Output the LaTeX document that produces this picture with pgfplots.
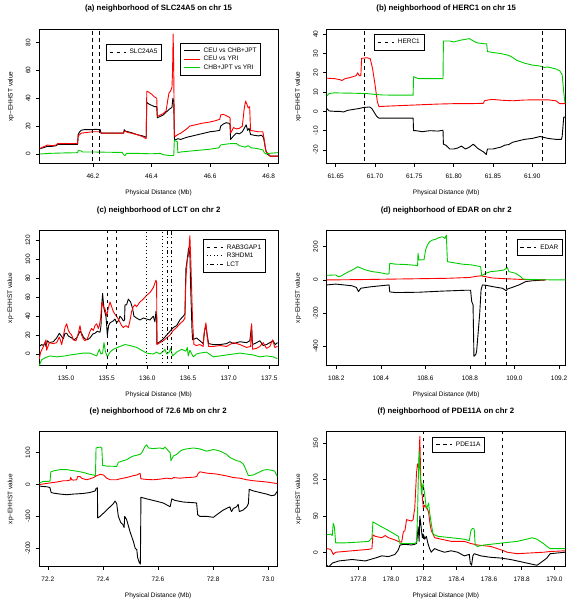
\documentclass[border=0pt]{standalone}
\usepackage{pgfplots}
\pgfplotsset{compat=1.18}
\usepackage{fontspec}
\setmainfont{Liberation Sans}
\definecolor{rgreen}{RGB}{0,205,0}
\newcommand{\smallfont}{\fontsize{6.5}{7.5}\selectfont}
\pgfplotsset{
 rstyle/.style={scale only axis, height=134.5pt, anchor=north west, no marks,
  tick align=outside, tick pos=left, major tick length=3.3pt,
  axis line style={line width=0.6pt}, every tick/.style={black, line width=0.6pt},
  tick label style={font=\smallfont}, yticklabel style={rotate=90, anchor=south},
  xticklabel shift=3.5pt, yticklabel shift=2pt,
  label style={font=\smallfont},
  xlabel={Physical Distance (Mb)}, ylabel={xp−EHHST value},
  xlabel style={at={(axis description cs:0.5,-0.2305)}, anchor=base},
  ylabel style={at={(axis description cs:-0.0914,0.5)}, anchor=south},
  title style={font=\bfseries\fontsize{7.8}{9}\selectfont, at={(axis description cs:0.5,1.093)}, anchor=base},
  legend cell align=left,
  legend style={font=\smallfont, draw=black, line width=0.6pt, fill=white, inner xsep=3pt, inner ysep=3.5pt,
    row sep=0pt, anchor=north west, nodes={inner sep=1pt, text height=5pt, text depth=1.5pt},
    /tikz/every odd column/.append style={column sep=2.5pt}},
  legend image code/.code={\draw[#1] (0pt,0pt) -- (16pt,0pt);},
 },
 blk/.style={black, line width=0.9pt, line join=round},
 rd/.style={red, line width=0.9pt, line join=round},
 gr/.style={rgreen, line width=0.9pt, line join=round},
 vdash/.style={black, line width=0.75pt, dash pattern=on 3.5pt off 3.5pt},
 vdot/.style={black, line width=0.75pt, dash pattern=on 0.9pt off 2.6pt},
 vdashdot/.style={black, line width=0.75pt, dash pattern=on 0.9pt off 2.6pt on 3.5pt off 2.6pt},
}
\begin{document}
\begin{tikzpicture}
\useasboundingbox (0pt,0pt) rectangle (575pt,609pt);
% ---------------- (a)
\begin{axis}[rstyle, width=238.6pt, at={(39.2pt,579.8pt)},
 title={(a) neighborhood of SLC24A5 on chr 15},
 xmin=46.017, xmax=46.831, ymin=-6.9, ymax=89.5,
 xtick={46.2,46.4,46.6,46.8}, xticklabels={46.2,46.4,46.6,46.8},
 ytick={0,20,40,60,80}, yticklabels={0,20,40,60,80},
 legend style={at={(axis description cs:0.28,0.889)}}]
\addplot[blk, forget plot] coordinates {(46.019,3.8) (46.03,4.5) (46.045,5.5) (46.06,5.5) (46.075,6) (46.08,7) (46.10,7) (46.12,7) (46.148,7) (46.150,14) (46.155,16) (46.16,17) (46.17,17.5) (46.19,17.5) (46.21,17.7) (46.225,17.5) (46.228,15) (46.25,15) (46.28,15) (46.305,15) (46.307,17.5) (46.31,16.5) (46.33,15.5) (46.35,14) (46.37,13) (46.382,12) (46.384,37) (46.39,36) (46.40,35) (46.41,34) (46.418,34) (46.420,26) (46.43,27) (46.44,28) (46.45,30) (46.46,32) (46.47,33.5) (46.473,40) (46.476,38) (46.478,12) (46.479,10) (46.49,11) (46.50,10.5) (46.52,12) (46.54,13) (46.56,14) (46.58,15) (46.60,16) (46.62,16.5) (46.633,17) (46.636,20) (46.645,21.5) (46.655,22.5) (46.665,22) (46.668,21) (46.670,10.5) (46.68,13) (46.69,15) (46.70,14.5) (46.71,16) (46.718,19) (46.723,21) (46.728,17) (46.733,18.5) (46.738,14) (46.75,13.5) (46.765,13) (46.775,13.5) (46.782,12) (46.79,3) (46.795,0) (46.805,-1.5) (46.831,-1.5)};
\addplot[rd, forget plot] coordinates {(46.019,4) (46.03,5) (46.045,6.5) (46.06,6) (46.075,6.5) (46.08,7.5) (46.12,7.5) (46.148,7.5) (46.150,13) (46.16,15) (46.18,15.5) (46.20,16) (46.225,16) (46.228,15) (46.28,15) (46.305,15) (46.307,16.5) (46.32,15.5) (46.35,14) (46.37,12.5) (46.382,11) (46.384,45) (46.39,44.5) (46.40,43) (46.41,41) (46.418,40) (46.420,27) (46.43,28) (46.44,29) (46.45,31) (46.455,38) (46.46,44) (46.465,45) (46.47,48) (46.472,60) (46.474,86) (46.476,60) (46.478,14) (46.48,12.5) (46.49,14) (46.50,15) (46.52,18) (46.53,20) (46.55,21) (46.57,22) (46.60,23) (46.62,24) (46.633,25) (46.636,28) (46.645,28.5) (46.655,27.5) (46.665,26.5) (46.668,26) (46.670,15) (46.68,19) (46.69,18) (46.70,18.5) (46.71,20) (46.716,32) (46.721,38) (46.725,36) (46.73,33) (46.735,34) (46.738,17) (46.75,16.5) (46.765,16) (46.78,16) (46.785,10) (46.79,2) (46.80,0) (46.805,-1.5) (46.831,-1.5)};
\addplot[gr, forget plot] coordinates {(46.019,0) (46.05,0.5) (46.10,0.8) (46.148,1) (46.150,2.5) (46.16,2.3) (46.165,1.5) (46.20,1.5) (46.25,1.3) (46.30,1.2) (46.305,-0.5) (46.31,-1) (46.315,0.5) (46.35,0.5) (46.40,0.2) (46.43,0.5) (46.44,-0.5) (46.46,-1) (46.476,-1) (46.478,10) (46.48,9.5) (46.488,9) (46.490,1) (46.50,1.5) (46.55,2.5) (46.60,3.5) (46.63,4.5) (46.636,6.5) (46.65,7) (46.67,7.5) (46.69,7.5) (46.70,6) (46.72,5) (46.73,6) (46.74,4.5) (46.76,4) (46.78,3) (46.785,1) (46.79,0) (46.80,0.5) (46.831,1)};
\addplot[vdash] coordinates {(46.2,-20) (46.2,100)};
\addlegendentry{SLC24A5}
\addplot[vdash, forget plot] coordinates {(46.221,-20) (46.221,100)};
\end{axis}
\begin{axis}[rstyle, width=238.6pt, at={(39.2pt,579.8pt)}, hide axis, xmin=0, xmax=1, ymin=0, ymax=1,
 legend style={at={(axis description cs:0.590,0.901)}}]
\addlegendimage{blk}\addlegendentry{CEU vs CHB+JPT}
\addlegendimage{rd}\addlegendentry{CEU vs YRI}
\addlegendimage{gr}\addlegendentry{CHB+JPT vs YRI}
\end{axis}
% ---------------- (b)
\begin{axis}[rstyle, width=239pt, at={(326.7pt,579.8pt)},
 title={(b) neighborhood of HERC1 on chr 15},
 xmin=61.6386, xmax=61.9425, ymin=-27.1, ymax=42.6,
 xtick={61.65,61.70,61.75,61.80,61.85,61.90}, xticklabels={61.65,61.70,61.75,61.80,61.85,61.90},
 ytick={-20,-10,0,10,20,30,40}, yticklabels={-20,-10,0,10,20,30,40},
 legend style={at={(axis description cs:0.199,0.964)}}]
\addplot[blk, forget plot] coordinates {(61.6386,1.5) (61.642,0.2) (61.65,0) (61.655,0) (61.66,-0.3) (61.665,0.5) (61.672,1) (61.68,1.5) (61.685,2) (61.693,2.3) (61.696,1.5) (61.699,-0.5) (61.702,-2.5) (61.705,-3.5) (61.72,-3.5) (61.7485,-3.5) (61.749,-10) (61.752,-10) (61.76,-10.5) (61.77,-10) (61.78,-10.2) (61.7865,-9.8) (61.787,-17) (61.79,-17.5) (61.795,-19.5) (61.80,-19.5) (61.805,-19) (61.81,-18) (61.815,-19.5) (61.82,-18.5) (61.825,-17) (61.83,-19) (61.838,-21) (61.8415,-22.3) (61.843,-19.5) (61.85,-19.5) (61.855,-19) (61.86,-18.5) (61.865,-17.5) (61.87,-17.2) (61.875,-16) (61.88,-15.5) (61.89,-14.5) (61.90,-14) (61.91,-13) (61.915,-13.5) (61.92,-14) (61.93,-14.5) (61.937,-14.5) (61.938,-13) (61.940,-3) (61.9425,-3)};
\addplot[rd, forget plot] coordinates {(61.6386,17.2) (61.648,17) (61.655,16.5) (61.658,16) (61.662,17) (61.668,17.5) (61.672,18) (61.676,18.5) (61.678,20) (61.680,18.5) (61.682,18.5) (61.683,27.5) (61.690,27.8) (61.694,27.3) (61.697,22) (61.700,14) (61.703,5) (61.705,2.5) (61.72,2.8) (61.75,3.3) (61.78,3.8) (61.80,4) (61.82,4) (61.838,4.2) (61.839,5.5) (61.845,6) (61.85,6.2) (61.86,5.8) (61.875,5.5) (61.89,5.9) (61.905,6) (61.92,6) (61.93,5.5) (61.935,4) (61.9425,4)};
\addplot[gr, forget plot] coordinates {(61.6386,8) (61.642,9.3) (61.648,9.6) (61.66,9.5) (61.675,9.4) (61.69,9.2) (61.70,8.8) (61.71,8.5) (61.73,8.4) (61.7485,8.4) (61.749,18) (61.752,17.5) (61.755,17) (61.77,17) (61.7865,17) (61.787,36.5) (61.795,36.5) (61.80,36) (61.81,37) (61.82,37.7) (61.825,36.5) (61.83,35.5) (61.84,35) (61.842,35) (61.843,31) (61.85,30.5) (61.86,30) (61.87,29) (61.875,28) (61.88,26.5) (61.89,25) (61.90,24) (61.91,23.5) (61.915,22.8) (61.92,23) (61.925,22.5) (61.93,22) (61.935,21) (61.938,19) (61.940,10) (61.9415,4.5)};
\addplot[vdash] coordinates {(61.687,-40) (61.687,60)};
\addlegendentry{HERC1}
\addplot[vdash, forget plot] coordinates {(61.913,-40) (61.913,60)};
\end{axis}
% ---------------- (c)
\begin{axis}[rstyle, width=239.3pt, at={(39pt,378.2pt)},
 title={(c) neighborhood of LCT on chr 2},
 xmin=134.668, xmax=137.61, ymin=-11.9, ymax=130.2,
 xtick={135,135.5,136,136.5,137,137.5}, xticklabels={135.0,135.5,136.0,136.5,137.0,137.5},
 ytick={0,20,40,60,80,100,120}, yticklabels={0,20,40,60,80,100,120},
 legend style={at={(axis description cs:0.6866,0.937)}}]
\addplot[blk, forget plot] coordinates {(134.672,8) (134.701,10) (134.722,9) (134.742,12) (134.754,8) (134.771,14) (134.795,12) (134.844,13) (134.885,17) (134.918,22) (134.934,20) (134.967,16) (134.988,22) (135.008,22) (135.029,19) (135.070,17) (135.098,15) (135.131,17) (135.172,24) (135.192,22) (135.213,18) (135.233,16) (135.262,15) (135.295,17) (135.328,21) (135.356,22) (135.385,24) (135.418,23) (135.430,30) (135.442,55) (135.450,64) (135.459,55) (135.467,48) (135.491,40) (135.500,30) (135.508,20) (135.524,30) (135.541,33) (135.581,35) (135.602,37) (135.622,33) (135.643,35) (135.663,40) (135.684,38) (135.705,35) (135.720,36) (135.725,52) (135.745,52) (135.766,58) (135.794,55) (135.819,48) (135.835,40) (135.868,38) (135.909,36) (135.950,38) (135.991,37) (136.032,36) (136.073,40) (136.093,34) (136.106,45) (136.114,40) (136.118,11) (136.155,13) (136.196,16) (136.237,20) (136.278,24) (136.319,28) (136.360,30) (136.400,36) (136.441,40) (136.462,42) (136.474,90) (136.491,100) (136.507,112) (136.523,105) (136.532,72) (136.548,28) (136.556,15) (136.605,17) (136.646,14) (136.687,11) (136.704,25) (136.720,30) (136.736,20) (136.753,11) (136.810,10) (136.892,10) (136.974,11) (137.015,13) (137.056,11) (137.138,13) (137.219,12) (137.260,14) (137.281,30) (137.293,10) (137.342,12) (137.383,14) (137.424,9) (137.465,10) (137.506,12) (137.547,14) (137.572,10) (137.600,12)};
\addplot[rd, forget plot] coordinates {(134.672,-5) (134.688,2) (134.722,8) (134.754,15) (134.762,4) (134.795,12) (134.844,11) (134.885,12) (134.918,18) (134.947,10) (134.988,28) (135.008,32) (135.029,25) (135.049,22) (135.070,20) (135.090,15) (135.123,14) (135.152,22) (135.172,30) (135.192,20) (135.213,16) (135.233,14) (135.262,16) (135.295,24) (135.315,27) (135.336,25) (135.356,30) (135.377,32) (135.397,27) (135.410,30) (135.426,38) (135.442,55) (135.459,50) (135.479,48) (135.500,40) (135.516,47) (135.541,55) (135.561,50) (135.581,45) (135.602,42) (135.622,40) (135.655,35) (135.684,30) (135.705,28) (135.737,30) (135.766,28) (135.786,35) (135.807,45) (135.827,50) (135.848,52) (135.868,50) (135.909,55) (135.950,58) (135.991,62) (136.032,65) (136.073,70) (136.093,75) (136.106,78) (136.114,76) (136.118,10) (136.155,12) (136.196,14) (136.237,17) (136.278,20) (136.319,25) (136.360,28) (136.400,32) (136.441,35) (136.462,38) (136.474,80) (136.491,100) (136.507,105) (136.523,125) (136.536,95) (136.544,70) (136.556,35) (136.573,10) (136.605,9) (136.646,10) (136.687,8) (136.695,20) (136.720,33) (136.736,18) (136.753,8) (136.810,8) (136.892,9) (136.974,8) (137.015,10) (137.056,12) (137.138,10) (137.219,7) (137.270,8) (137.281,32) (137.293,5) (137.342,6) (137.383,8) (137.424,12) (137.465,6) (137.506,8) (137.539,15) (137.568,7) (137.600,8)};
\addplot[gr, forget plot] coordinates {(134.672,-12) (134.701,-6) (134.742,-4) (134.803,-2) (134.885,-3) (134.988,-2) (135.049,-1) (135.131,0) (135.213,1) (135.295,1) (135.377,-2) (135.410,5) (135.430,0) (135.450,1) (135.467,12) (135.483,3) (135.508,-3) (135.541,2) (135.581,5) (135.663,8) (135.725,10) (135.786,9) (135.827,8) (135.868,7) (135.909,5) (135.950,3) (135.991,1) (136.073,0) (136.114,2) (136.155,0) (136.196,3) (136.216,5) (136.237,0) (136.269,2) (136.286,6) (136.310,-2) (136.360,2) (136.421,5) (136.474,3) (136.491,7) (136.503,-2) (136.523,4) (136.564,-3) (136.605,0) (136.646,1) (136.728,2) (136.810,-3) (136.892,-2) (136.974,-1) (137.056,0) (137.138,1) (137.219,0) (137.301,-1) (137.383,-3) (137.465,-2) (137.547,-3) (137.600,-5)};
\addplot[vdash] coordinates {(135.507,-50) (135.507,200)};
\addlegendentry{RAB3GAP1}
\addplot[vdot] coordinates {(135.991,-50) (135.991,200)};
\addlegendentry{R3HDM1}
\addplot[vdashdot] coordinates {(136.25,-50) (136.25,200)};
\addlegendentry{LCT}
\addplot[vdash, forget plot] coordinates {(135.623,-50) (135.623,200)};
\addplot[vdot, forget plot] coordinates {(136.188,-50) (136.188,200)};
\addplot[vdashdot, forget plot] coordinates {(136.299,-50) (136.299,200)};
\end{axis}
% ---------------- (d)
\begin{axis}[rstyle, width=239pt, at={(326.7pt,378.2pt)},
 title={(d) neighborhood of EDAR on chr 2},
 xmin=108.157, xmax=109.23, ymin=-514, ymax=296,
 xtick={108.2,108.4,108.6,108.8,109.0,109.2}, xticklabels={108.2,108.4,108.6,108.8,109.0,109.2},
 ytick={-400,-200,0,200}, yticklabels={-400,-200,0,200},
 legend style={at={(axis description cs:0.795,0.937)}}]
\addplot[blk, forget plot] coordinates {(108.157,-30) (108.197,-25) (108.22,-28) (108.27,-35) (108.29,-45) (108.30,-70) (108.31,-50) (108.35,-42) (108.40,-35) (108.437,-30) (108.440,-72) (108.466,-76) (108.52,-75) (108.571,-74) (108.631,-70) (108.68,-67) (108.721,-65) (108.781,-62) (108.803,-62) (108.808,-130) (108.814,-150) (108.818,-460) (108.826,-450) (108.830,-430) (108.838,-300) (108.844,-200) (108.850,-60) (108.856,-30) (108.871,-32) (108.901,-40) (108.946,-50) (108.963,-65) (108.968,-55) (108.990,-45) (109.020,-30) (109.050,-10) (109.080,-5) (109.140,0)};
\addplot[rd, forget plot] coordinates {(108.157,0) (108.3,2) (108.45,5) (108.6,8) (108.7,10) (108.80,15) (108.83,22) (108.85,25) (108.868,20) (108.90,12) (108.95,8) (109.0,5) (109.05,2) (109.14,0)};
\addplot[gr, forget plot] coordinates {(108.157,28) (108.197,30) (108.209,20) (108.219,22) (108.242,40) (108.264,55) (108.279,65) (108.296,80) (108.309,72) (108.332,60) (108.362,50) (108.392,45) (108.429,35) (108.437,38) (108.440,100) (108.466,95) (108.511,93) (108.556,88) (108.565,85) (108.567,160) (108.571,120) (108.594,122) (108.601,180) (108.609,210) (108.619,230) (108.631,240) (108.646,245) (108.661,255) (108.676,260) (108.688,250) (108.694,270) (108.699,110) (108.721,105) (108.766,95) (108.811,90) (108.848,80) (108.853,25) (108.871,40) (108.893,50) (108.931,55) (108.953,60) (108.968,75) (108.975,50) (109.005,40) (109.028,20) (109.038,5) (109.080,2) (109.140,1) (109.230,0)};
\addplot[vdash] coordinates {(108.868,-600) (108.868,400)};
\addlegendentry{EDAR}
\addplot[vdash, forget plot] coordinates {(108.964,-600) (108.964,400)};
\end{axis}
% ---------------- (e)
\begin{axis}[rstyle, width=238.3pt, at={(39pt,177.2pt)},
 title={(e) neighborhood of 72.6 Mb on chr 2},
 xmin=72.168, xmax=73.033, ymin=-257, ymax=165.8,
 xtick={72.2,72.4,72.6,72.8,73.0}, xticklabels={72.2,72.4,72.6,72.8,73.0},
 ytick={-200,-100,0,100}, yticklabels={-200,-100,0,100}]
\addplot[blk] coordinates {(72.170,-5) (72.196,-7) (72.202,-8) (72.208,-10) (72.212,-25) (72.221,-27) (72.245,-30) (72.269,-32) (72.293,-30) (72.329,-28) (72.353,-25) (72.372,-20) (72.375,-12) (72.380,-10) (72.381,-105) (72.390,-100) (72.402,-90) (72.414,-80) (72.426,-70) (72.438,-60) (72.444,-52) (72.450,-60) (72.456,-100) (72.465,-120) (72.472,-125) (72.477,-135) (72.479,-100) (72.486,-110) (72.499,-150) (72.511,-180) (72.517,-200) (72.523,-205) (72.526,-230) (72.532,-245) (72.536,-250) (72.538,-40) (72.559,-45) (72.583,-50) (72.619,-58) (72.638,-67) (72.644,-70) (72.650,-45) (72.662,-50) (72.692,-55) (72.728,-57) (72.740,-58) (72.744,-95) (72.752,-100) (72.776,-100) (72.801,-103) (72.813,-95) (72.837,-80) (72.861,-70) (72.864,-80) (72.867,-85) (72.873,-75) (72.885,-70) (72.891,-62) (72.895,-85) (72.909,-80) (72.922,-70) (72.928,-60) (72.931,-15) (72.946,-20) (72.970,-25) (72.994,-30) (73.012,-35) (73.024,-33) (73.034,-20)};
\addplot[rd] coordinates {(72.170,0) (72.184,2) (72.208,5) (72.233,8) (72.257,12) (72.269,12) (72.281,14) (72.283,22) (72.287,15) (72.293,14) (72.305,15) (72.308,25) (72.317,25) (72.323,20) (72.329,18) (72.341,15) (72.353,18) (72.366,22) (72.372,25) (72.378,28) (72.390,32) (72.402,30) (72.414,20) (72.426,15) (72.450,15) (72.462,18) (72.486,22) (72.511,28) (72.523,30) (72.535,35) (72.538,18) (72.559,16) (72.583,15) (72.607,17) (72.631,20) (72.650,18) (72.656,22) (72.680,20) (72.704,22) (72.728,23) (72.740,25) (72.746,35) (72.752,40) (72.764,38) (72.776,36) (72.813,33) (72.849,27) (72.873,22) (72.897,20) (72.922,15) (72.946,12) (72.970,10) (72.994,8) (73.018,5) (73.034,3)};
\addplot[gr] coordinates {(72.170,5) (72.184,10) (72.202,10) (72.208,11) (72.211,40) (72.221,43) (72.245,47) (72.269,47) (72.281,45) (72.305,42) (72.329,38) (72.353,32) (72.366,30) (72.373,28) (72.375,115) (72.390,118) (72.396,115) (72.399,60) (72.414,58) (72.450,57) (72.456,70) (72.474,75) (72.486,78) (72.499,85) (72.511,90) (72.523,92) (72.535,95) (72.541,100) (72.547,110) (72.553,120) (72.559,125) (72.565,115) (72.583,113) (72.607,115) (72.619,112) (72.625,118) (72.644,100) (72.647,75) (72.656,90) (72.668,95) (72.680,105) (72.692,110) (72.704,112) (72.728,115) (72.752,112) (72.776,105) (72.801,110) (72.813,108) (72.825,105) (72.849,95) (72.861,85) (72.873,80) (72.885,75) (72.897,73) (72.909,65) (72.915,55) (72.922,40) (72.928,28) (72.946,30) (72.970,40) (72.982,45) (72.994,47) (73.012,45) (73.024,42) (73.030,30) (73.034,25)};
\end{axis}
% ---------------- (f)
\begin{axis}[rstyle, width=238.3pt, at={(326.7pt,177.2pt)},
 title={(f) neighborhood of PDE11A on chr 2},
 xmin=177.606, xmax=179.065, ymin=-19.4, ymax=166.2,
 xtick={177.8,178.0,178.2,178.4,178.6,178.8,179.0}, xticklabels={177.8,178.0,178.2,178.4,178.6,178.8,179.0},
 ytick={0,50,100,150}, yticklabels={0,50,100,150},
 legend style={at={(axis description cs:0.4435,0.9636)}}]
\addplot[blk, forget plot] coordinates {(177.606,-18) (177.620,-20) (177.640,-15) (177.681,-12) (177.762,-10) (177.842,-12) (177.903,-8) (177.943,-5) (177.984,-6) (178.024,-3) (178.044,3) (178.055,10) (178.085,11) (178.125,10) (178.145,11) (178.156,12) (178.162,25) (178.166,35) (178.172,15) (178.176,50) (178.182,40) (178.186,30) (178.192,20) (178.196,25) (178.202,22) (178.206,18) (178.216,22) (178.226,12) (178.236,5) (178.246,0) (178.257,3) (178.267,5) (178.287,3) (178.327,0) (178.368,2) (178.408,0) (178.448,-5) (178.479,-3) (178.485,-15) (178.493,-18) (178.501,-5) (178.509,-2) (178.549,-5) (178.610,-7) (178.671,-8) (178.731,-10) (178.772,-12) (178.812,-14) (178.853,-16) (178.893,-18) (178.913,-15) (178.954,-8) (178.974,-2) (179.065,0)};
\addplot[rd, forget plot] coordinates {(177.606,5) (177.630,4) (177.640,0) (177.646,-3) (177.661,0) (177.762,2) (177.863,4) (177.883,5) (177.889,24) (177.903,22) (177.943,20) (177.964,23) (177.984,20) (178.024,17) (178.044,15) (178.065,14) (178.075,28) (178.085,30) (178.095,45) (178.125,43) (178.135,45) (178.141,55) (178.145,60) (178.156,110) (178.162,122) (178.170,115) (178.176,160) (178.182,100) (178.190,80) (178.198,60) (178.206,65) (178.222,60) (178.230,55) (178.238,40) (178.246,30) (178.257,25) (178.267,20) (178.307,18) (178.368,15) (178.448,15) (178.489,12) (178.529,10) (178.610,8) (178.651,5) (178.691,2) (178.711,0) (178.772,-2) (178.853,-1) (178.933,0) (178.974,1) (179.065,2)};
\addplot[gr, forget plot] coordinates {(177.606,24) (177.630,25) (177.640,23) (177.646,40) (177.653,35) (177.661,13) (177.721,13) (177.802,14) (177.863,15) (177.883,20) (177.889,42) (177.903,40) (177.943,35) (177.984,30) (178.044,22) (178.055,12) (178.105,12) (178.145,12) (178.156,14) (178.162,50) (178.166,95) (178.172,140) (178.178,110) (178.186,80) (178.196,95) (178.206,80) (178.216,60) (178.226,65) (178.230,68) (178.236,55) (178.246,40) (178.257,25) (178.287,22) (178.368,20) (178.448,18) (178.479,16) (178.489,30) (178.499,33) (178.509,32) (178.515,10) (178.529,8) (178.570,10) (178.651,12) (178.731,14) (178.772,15) (178.812,17) (178.863,20) (178.893,18) (178.933,12) (178.954,8) (178.974,5) (179.065,5)};
\addplot[vdash] coordinates {(178.196,-50) (178.196,250)};
\addlegendentry{PDE11A}
\addplot[vdash, forget plot] coordinates {(178.68,-50) (178.68,250)};
\end{axis}
\end{tikzpicture}
\end{document}
